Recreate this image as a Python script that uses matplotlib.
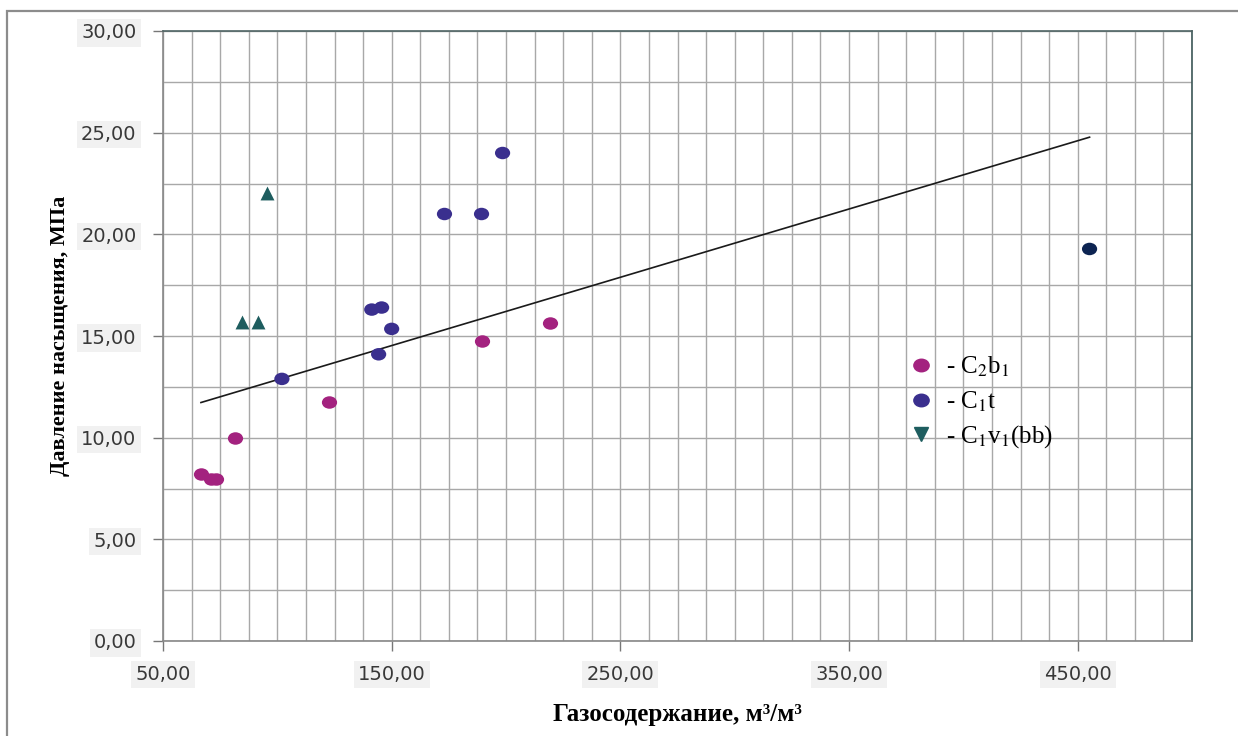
import numpy as np
import matplotlib
matplotlib.use('Agg')
import matplotlib.pyplot as plt
from matplotlib.lines import Line2D
from matplotlib.patches import Rectangle
from matplotlib.path import Path

# gas content (m3/m3) vs saturation pressure (MPa) by formation
c2b1_x = [66.6, 71.0, 73.1, 81.4, 122.5, 189.3, 219.4]
c2b1_y = [8.20, 7.95, 7.95, 10.00, 11.76, 14.76, 15.64]

c1t_x = [102.0, 141.3, 145.6, 150.0, 144.3, 173.1, 189.3, 198.5, 455.2]
c1t_y = [12.89, 16.30, 16.40, 15.35, 14.10, 21.00, 21.00, 24.00, 19.28]

c1v1_x = [84.5, 91.5, 95.4]
c1v1_y = [15.70, 15.70, 22.05]

x_ticks = [50, 150, 250, 350, 450]
x_ticklabels = ['50,00', '150,00', '250,00', '350,00', '450,00']
y_ticks = [0, 5, 10, 15, 20, 25, 30]
y_ticklabels = ['0,00', '5,00', '10,00', '15,00', '20,00', '25,00', '30,00']

legend_labels = [r'- C$_{\rm 2}$b$_{\rm 1}$', r'- C$_{\rm 1}$t', r'- C$_{\rm 1}$v$_{\rm 1}$(bb)']

pink = '#a3227f'
blue = '#3a2f8e'
teal = '#1e5d5f'
navy = '#0d2452'
c1t_colors = [blue] * 8 + [navy]

plt.rcParams['mathtext.fontset'] = 'stix'

# slightly flattened dot marker
circ = Path.unit_circle()
oval = Path(circ.vertices * [1.0, 0.82], circ.codes)

fig = plt.figure(figsize=(12.38, 7.36), dpi=100)
ax = fig.add_axes([163 / 1238, 95 / 736, 1029 / 1238, 610 / 736])

ax.set_xlim(50, 500)
ax.set_ylim(0, 30)
ax.set_xticks(x_ticks)
ax.set_xticklabels(x_ticklabels)
ax.set_yticks(y_ticks)
ax.set_yticklabels(y_ticklabels)
ax.set_xticks(np.arange(50, 500.1, 12.5), minor=True)
ax.set_yticks(np.arange(0, 30.1, 2.5), minor=True)
ax.grid(True, which='both', color='#a8a8a8', lw=1.0)
ax.set_axisbelow(True)
ax.tick_params(which='major', direction='out', length=7, width=1.0, color='#777777',
               labelsize=14, labelcolor='#383838')
ax.tick_params(axis='y', which='major', pad=12)
ax.tick_params(axis='x', which='major', pad=10)
ax.tick_params(which='minor', length=0)
for lab in ax.get_xticklabels() + ax.get_yticklabels():
    lab.set_bbox(dict(facecolor='#f1f1f1', edgecolor='none', pad=3))

ax.spines['left'].set_color('#888888')
ax.spines['bottom'].set_color('#888888')
ax.spines['top'].set_color('#4f6464')
ax.spines['right'].set_color('#3d5757')
for s in ax.spines.values():
    s.set_linewidth(1.2)

# linear trend through C2b1 and C1t points
tx = np.array(c2b1_x + c1t_x)
ty = np.array(c2b1_y + c1t_y)
k, b = np.polyfit(tx, ty, 1)
xs = np.array([tx.min(), tx.max()])
ax.plot(xs, k * xs + b, color='#1a1a1a', lw=1.2, zorder=2)

ax.scatter(c2b1_x, c2b1_y, marker=oval, s=120, color=pink, zorder=3, linewidths=0)
ax.scatter(c1t_x, c1t_y, marker=oval, s=120, color=c1t_colors, zorder=3, linewidths=0)
ax.scatter(c1v1_x, c1v1_y, marker='^', s=100, color=teal, zorder=3, linewidths=0)

handles = [Line2D([], [], ls='none', marker=oval, ms=11, color=pink),
           Line2D([], [], ls='none', marker=oval, ms=11, color=blue),
           Line2D([], [], ls='none', marker='v', ms=10, color=teal)]
ax.legend(handles, legend_labels, loc='upper left', bbox_to_anchor=(910 / 1238, 1 - 355 / 736),
          bbox_transform=fig.transFigure, frameon=False, borderpad=0, borderaxespad=0,
          handlelength=0.9, handletextpad=0.55, labelspacing=0.4,
          prop={'family': 'Liberation Serif', 'size': 18})

ax.set_xlabel('Газосодержание, м³/м³', family='Liberation Serif', weight='bold',
              fontsize=18, labelpad=14)
ax.set_ylabel('Давление насыщения, МПа', family='Liberation Serif', weight='bold',
              fontsize=16, labelpad=8)

# outer chart frame
fig.patches.append(Rectangle((7 / 1238, -0.1), 1.2, 0.1 + (736 - 11) / 736,
                             transform=fig.transFigure, fill=False,
                             edgecolor='#8c8c8c', lw=1.6))

fig.savefig('out.png', dpi=100)
